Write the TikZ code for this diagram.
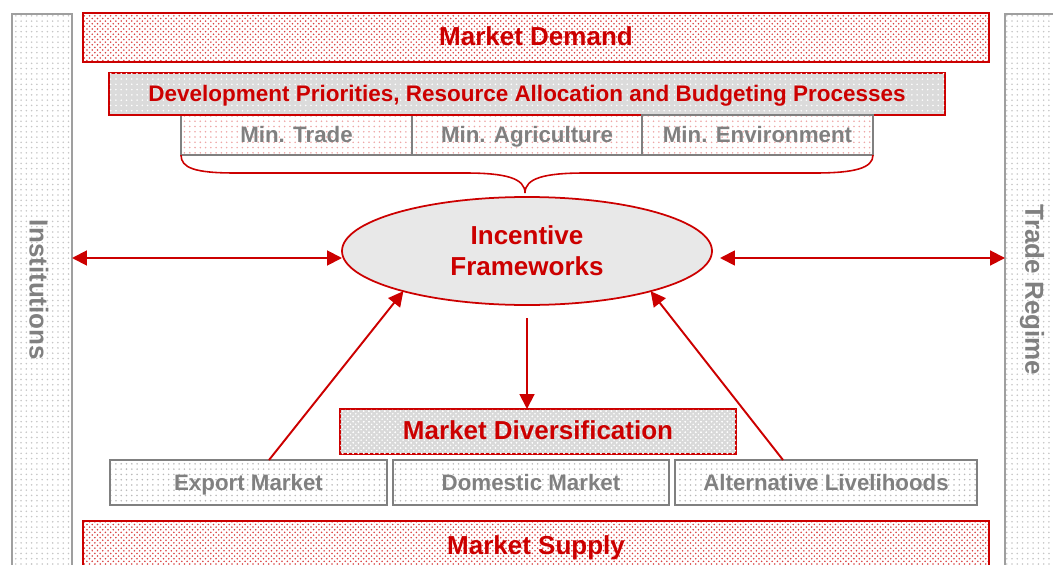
\documentclass[tikz,border=0pt]{standalone}
\usepackage{fontspec}
\setmainfont{Liberation Sans}
\usetikzlibrary{shapes.geometric}
\usetikzlibrary{patterns}
\usetikzlibrary{arrows.meta}
\definecolor{frameRed}{HTML}{CC0000}
\definecolor{frameGray}{HTML}{808080}
%% One pixel of the layout.
\newcommand{\pxu}{0.02cm}
\newcommand{\bigLabel}{\fontsize{14.8}{17.6}\selectfont\bfseries}
\newcommand{\smallLabel}{\fontsize{12.7}{15}\selectfont\bfseries}

\begin{document}
\begin{tikzpicture}[%%
  x=\pxu,y=-\pxu,%%
  evenText/.style={text height=0.86em,text depth=0pt},%%
  redBox/.style={draw=frameRed,line width=1pt,pattern=crosshatch dots,pattern color=frameRed!75,text=frameRed,font=\bigLabel,evenText,inner sep=0pt,outer sep=0pt},%%
  greyBox/.style={draw=frameRed,line width=1pt,fill=gray!28,postaction={pattern=dots,pattern color=white},text=frameRed,evenText,inner sep=0pt,outer sep=0pt},%%
  minBox/.style={draw=frameGray,line width=1pt,pattern=dots,pattern color=frameRed!35,text=frameGray,font=\smallLabel,evenText,inner sep=0pt,outer sep=0pt},%%
  marketBox/.style={minBox,pattern color=gray!55},%%
  columnBox/.style={draw=gray!75,line width=1pt,pattern=dots,pattern color=gray!45,inner sep=0pt,outer sep=0pt},%%
  columnText/.style={text=frameGray,font=\bigLabel,rotate=-90},%%
  arrowLine/.style={draw=frameRed,line width=1.1pt,-{Triangle[length=8.5pt,width=8.5pt]}},%%
  biArrow/.style={arrowLine,{Triangle[length=8.5pt,width=8.5pt]}-{Triangle[length=8.5pt,width=8.5pt]}},%%
]
%%
\useasboundingbox (0,0) rectangle (1053,564);
\clip (0,0) rectangle (1053,564);
%% The two side columns.
\node[columnBox,minimum width=60*\pxu,minimum height=552*\pxu] (institutions) at (42,290) {};
\node[columnText] (institutionsText) at (39,290) {Institutions};
\node[columnBox,minimum width=60*\pxu,minimum height=552*\pxu] (tradeRegime) at (1035,290) {};
\node[columnText] (tradeRegimeText) at (1032,290) {Trade Regime};
%% Demand on top.
\node[redBox,minimum width=906*\pxu,minimum height=49*\pxu] (demand) at (536,37.5) {Market Demand};
%% The ministries under the budgeting processes.
\node[minBox,minimum width=231*\pxu,minimum height=40*\pxu] (minTrade) at (296.5,135) {Min. Trade};
\node[minBox,minimum width=230*\pxu,minimum height=40*\pxu] (minAgri) at (527,135) {Min. Agriculture};
\node[greyBox,font=\fontsize{12.8}{15}\selectfont\bfseries,minimum width=836*\pxu,minimum height=42*\pxu] (budgeting) at (527,94)
  {Development Priorities, Resource Allocation and Budgeting Processes};
\node[minBox,minimum width=231*\pxu,minimum height=40*\pxu] (minEnv) at (757.5,135) {Min. Environment};
%% The brace that gathers the ministries.
\coordinate (braceTip) at (525,193);
\draw[frameRed,line width=0.9pt] (minTrade.south west) .. controls (181,168) and (195,173) .. (235,173)
  -- (465,173) .. controls (505,173) and (525,178) .. (braceTip)
  .. controls (525,178) and (545,173) .. (585,173) -- (815,173)
  .. controls (855,173) and (873,168) .. (minEnv.south east);
%% The incentive frameworks.
\node[ellipse,draw=frameRed,line width=1pt,fill=gray!18,minimum width=370*\pxu,minimum height=108*\pxu,%%
  text=frameRed,font=\bigLabel,align=center,inner sep=0pt,outer sep=0pt] (incentive) at (527,251) {Incentive\\Frameworks};
%% Diversification and the three markets.
\node[greyBox,font=\bigLabel,fill=gray!30,postaction={pattern=crosshatch dots,pattern color=white},%%
  minimum width=396*\pxu,minimum height=45*\pxu] (diversification) at (538,431.5) {Market Diversification};
\node[marketBox,minimum width=277*\pxu,minimum height=45*\pxu] (export) at (248.5,482.5) {Export Market};
\node[marketBox,minimum width=276*\pxu,minimum height=45*\pxu] (domestic) at (531,482.5) {Domestic Market};
\node[marketBox,minimum width=302*\pxu,minimum height=45*\pxu] (livelihoods) at (826,482.5) {Alternative Livelihoods};
%% Supply at the bottom.
\node[redBox,minimum width=906*\pxu,minimum height=52*\pxu] (supply) at (536,547) {Market Supply};
%% The arrows.
\coordinate (arrowRow) at (0,258);
\draw[biArrow] (institutions.east |- arrowRow) -- (incentive.west |- arrowRow);
\draw[biArrow] ([xshift=0.16cm]incentive.east |- arrowRow) -- (tradeRegime.west |- arrowRow);
\draw[arrowLine] ([yshift=-0.26cm]incentive.south) -- (incentive.south |- diversification.north);
\draw[arrowLine] ([xshift=0.41cm]export.north) -- (incentive.198);
\draw[arrowLine] ([xshift=-0.86cm]livelihoods.north) -- (incentive.342);
\end{tikzpicture}
\end{document}
